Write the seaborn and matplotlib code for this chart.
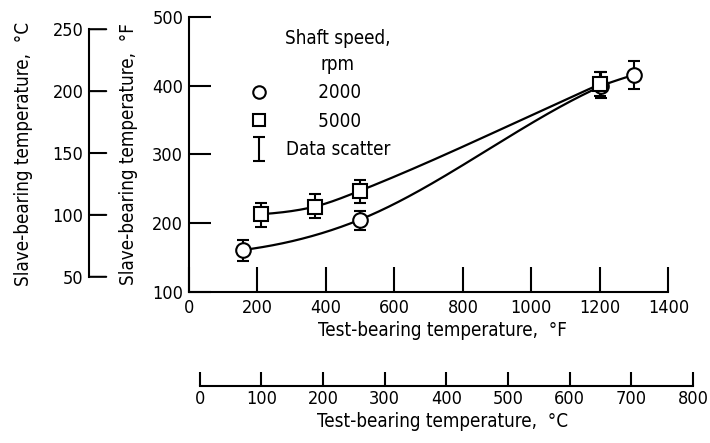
import numpy as np
import matplotlib
matplotlib.use('Agg')
import matplotlib.pyplot as plt
import seaborn as sns
from matplotlib.path import Path
from matplotlib.lines import Line2D

# Data (temperatures in deg F)
temp_2000 = [158, 499, 1203, 1301]
slave_2000 = [161, 205, 399, 416]
low_2000 = [145, 190, 382, 395]
high_2000 = [176, 218, 420, 436]

temp_5000 = [210, 367, 499, 1200]
slave_5000 = [213, 224, 247, 402]
low_5000 = [195, 207, 229, 385]
high_5000 = [229, 242, 263, 420]

x_ticks_f = [0, 200, 400, 600, 800, 1000, 1200, 1400]
y_ticks_f = [100, 200, 300, 400, 500]
x_ticks_c = [0, 100, 200, 300, 400, 500, 600, 700, 800]
y_ticks_c = [50, 100, 150, 200, 250]

sns.set_theme(style='ticks', rc={'axes.edgecolor': 'black', 'text.color': 'black',
                                 'axes.labelcolor': 'black', 'xtick.color': 'black',
                                 'ytick.color': 'black', 'xtick.labelsize': 13,
                                 'ytick.labelsize': 13, 'axes.labelsize': 13.5})
plt.rcParams['font.family'] = ['DejaVu Sans']
plt.rcParams['font.stretch'] = 'condensed'


def f2c(f):
    return (np.asarray(f) - 32) * 5 / 9


def c2f(c):
    return np.asarray(c) * 9 / 5 + 32


def faired(x, y, n=200):
    # cubic Hermite fairing through the measured points
    x = np.asarray(x, float)
    y = np.asarray(y, float)
    h = np.diff(x)
    d = np.diff(y) / h
    m = np.zeros_like(y)
    m[0] = d[0] * 0.5
    m[-1] = d[-1]
    m[1:-1] = (d[:-1] + d[1:]) / 2
    xs = np.linspace(x[0], x[-1], n)
    idx = np.clip(np.searchsorted(x, xs) - 1, 0, len(x) - 2)
    t = (xs - x[idx]) / h[idx]
    h00 = 2 * t**3 - 3 * t**2 + 1
    h10 = t**3 - 2 * t**2 + t
    h01 = -2 * t**3 + 3 * t**2
    h11 = t**3 - t**2
    ys = h00 * y[idx] + h10 * h[idx] * m[idx] + h01 * y[idx + 1] + h11 * h[idx] * m[idx + 1]
    return xs, ys


fig = plt.figure(figsize=(7.1, 4.43), dpi=100)
ax = fig.add_axes([0.266, 0.341, 0.714, 0.621])
ax.set_xlim(0, 1480)
ax.set_ylim(100, 500)

# faired curves through each data set
for t, s in [(temp_2000, slave_2000), (temp_5000, slave_5000)]:
    xs, ys = faired(t, s)
    sns.lineplot(x=xs, y=ys, color='black', lw=1.6, ax=ax)

# data scatter bars and symbols
for t, s, lo, hi, m, ms in [(temp_2000, slave_2000, low_2000, high_2000, 'o', 10.5),
                            (temp_5000, slave_5000, low_5000, high_5000, 's', 10)]:
    err = [np.array(s) - np.array(lo), np.array(hi) - np.array(s)]
    ax.errorbar(t, s, yerr=err, fmt='none', ecolor='black', elinewidth=1.5,
                capsize=4, capthick=1.5, zorder=3)
    ax.plot(t, s, linestyle='none', marker=m, ms=ms, mfc='white', mec='black',
            mew=1.5, zorder=4)

for side in ['top', 'right']:
    ax.spines[side].set_visible(False)
ax.spines['bottom'].set_bounds(0, 1400)
ax.spines['left'].set_bounds(100, 500)
for side in ['bottom', 'left']:
    ax.spines[side].set_linewidth(1.5)
ax.set_xticks(x_ticks_f)
ax.set_yticks(y_ticks_f)
ax.tick_params(axis='x', direction='in', length=18, width=1.5, pad=5)
ax.tick_params(axis='y', direction='in', length=16, width=1.5, pad=4)
ax.set_xlabel('Test-bearing temperature,  °F', labelpad=3)
ax.set_ylabel('Slave-bearing temperature,  °F', labelpad=10)

# secondary Celsius scales
secx = ax.secondary_xaxis(-0.342, functions=(f2c, c2f))
secx.set_xticks(x_ticks_c)
secx.spines['bottom'].set_bounds(0, 800)
secx.spines['bottom'].set_linewidth(1.5)
secx.tick_params(direction='in', length=10, width=1.5, pad=3)
secx.set_xlabel('Test-bearing temperature,  °C', labelpad=3)

secy = ax.secondary_yaxis(-0.197, functions=(f2c, c2f))
secy.set_yticks(y_ticks_c)
secy.spines['left'].set_bounds(50, 250)
secy.spines['left'].set_linewidth(1.5)
secy.tick_params(direction='out', length=0, width=1.5, pad=4)
secy.set_ylabel('Slave-bearing temperature,  °C', labelpad=14)
# ticks of the Celsius scale point toward the main axes
for c in y_ticks_c:
    ax.annotate('', xy=(-0.197 + 0.034, c2f(c)), xytext=(-0.197, c2f(c)),
                xycoords=('axes fraction', 'data'), annotation_clip=False,
                arrowprops=dict(arrowstyle='-', lw=1.5, color='black',
                                shrinkA=0, shrinkB=0))

# legend
ibar = Path([(-0.5, 1), (0.5, 1), (0, 1), (0, -1), (-0.5, -1), (0.5, -1)],
            [Path.MOVETO, Path.LINETO, Path.MOVETO, Path.LINETO, Path.MOVETO, Path.LINETO])
handles = [Line2D([], [], ls='none', marker='o', ms=9, mfc='white', mec='black', mew=1.5),
           Line2D([], [], ls='none', marker='s', ms=8.5, mfc='white', mec='black', mew=1.5),
           Line2D([], [], ls='none', marker=ibar, ms=17, mec='black', mew=1.5)]
leg = ax.legend(handles, ['      2000', '      5000', 'Data scatter'],
                title='Shaft speed,\nrpm', frameon=False, loc='upper left',
                bbox_to_anchor=(0.09, 1.009), handletextpad=0.95, labelspacing=0.5,
                handlelength=1.0, fontsize=13.5, title_fontsize=13.5, borderpad=0.3)
leg._legend_box.align = 'right'
leg.get_title().set_multialignment('center')
leg.get_title().set_linespacing(1.45)

fig.savefig('out.png', dpi=100)
